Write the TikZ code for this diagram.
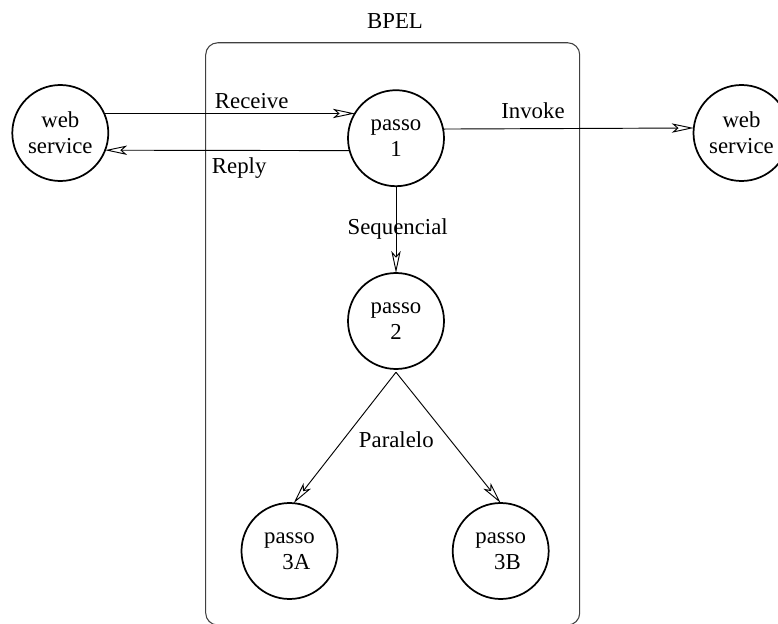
\documentclass[tikz,border=0pt]{standalone}
\usepackage{fontspec}
\setmainfont{Liberation Serif}
\usetikzlibrary{arrows.meta}

\tikzset{
  stepnode/.style={circle, draw=black, line width=1.3pt, minimum size=72pt,
    inner sep=0pt, outer sep=0pt, align=center,
    font=\fontsize{17.1pt}{19.2pt}\selectfont},
  flow/.style={draw=black, line width=0.7pt,
    -{Stealth[open, length=16.5pt, width=7pt, inset=4pt, line width=0.7pt]}},
  lbl/.style={anchor=base, inner sep=0pt, font=\fontsize{17.1pt}{19.2pt}\selectfont},
  container/.style={draw=black!75, line width=0.8pt, rounded corners=9pt,
    minimum width=280.5pt, minimum height=436.7pt, inner sep=0pt, outer sep=0pt}
}

\begin{document}
\begin{tikzpicture}[x=0.75pt, y=-0.75pt]
  \useasboundingbox (0,0) rectangle (778,624);

  % BPEL process container
  \node[container] (bpel) at (392.7,333.9) {};
  \node[lbl] (bpeltitle) at (395,29) {BPEL};

  % external services
  \node[stepnode] (ws1) at (60.3,133) {web\\service};
  \node[stepnode] (ws2) at (741.5,133) {web\\service};

  % process steps
  \node[stepnode] (p1) at (396,138.2) {passo\\1};
  \node[stepnode] (p2) at (396,321) {passo\\2};
  \node[stepnode] (p3a) at (289.5,551) {passo\\\hspace*{0.6em}3A};
  \node[stepnode] (p3b) at (500.7,551) {passo\\\hspace*{0.6em}3B};

  % message exchange with the client service
  \draw[flow] (ws1.24) -- (p1.149.5);
  \draw[flow] (p1.195) -- (ws1.-21.8);
  \draw[flow] (p1.11.7) -- (ws2.174.4);

  % control flow inside the process
  \draw[flow] (p1.south) -- (p2.north);
  \coordinate (fork) at ([yshift=-2.4pt]p2.south);
  \draw[flow] (fork) -- (p3a.85);
  \draw[flow] (fork) -- (p3b.north);

  % connector labels
  \node[lbl] (lrecv) at (251.7,108.3) {Receive};
  \node[lbl] (lrepl) at (239.2,173.3) {Reply};
  \node[lbl] (linv) at (533,118.3) {Invoke};
  \node[lbl] (lseq) at (397.7,234.3) {Sequencial};
  \node[lbl] (lpar) at (396.3,447.7) {Paralelo};
\end{tikzpicture}
\end{document}
